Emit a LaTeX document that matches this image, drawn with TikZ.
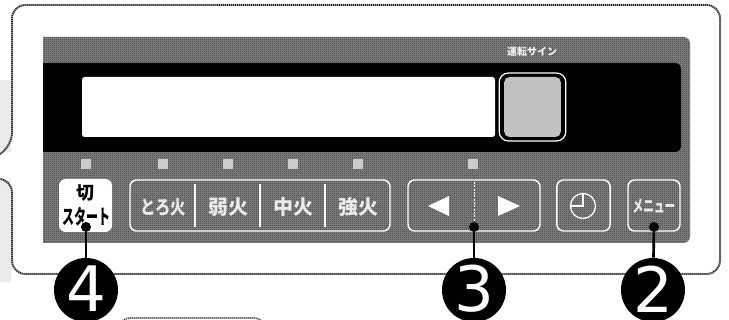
\documentclass[tikz,border=0pt]{standalone}
\usepackage{fontspec}
\usetikzlibrary{arrows.meta,patterns}
\setmainfont{Liberation Sans}
\newfontfamily\cjk{Noto Sans CJK JP}
\newfontfamily\digitfont{DejaVu Sans}
\pgfdeclarepatternformonly{chk}{\pgfpointorigin}{\pgfqpoint{1.5pt}{1.5pt}}{\pgfqpoint{1.5pt}{1.5pt}}{%
  \pgfpathrectangle{\pgfpointorigin}{\pgfqpoint{0.75pt}{0.75pt}}%
  \pgfpathrectangle{\pgfqpoint{0.75pt}{0.75pt}}{\pgfqpoint{0.75pt}{0.75pt}}%
  \pgfusepath{fill}}
\definecolor{ledc}{gray}{0.8}
\definecolor{bandc}{gray}{0.52}
\tikzset{
  x=0.75pt,y=-0.75pt,
  outline/.style={draw=black!85,line width=1.3pt,dash pattern=on 0.75pt off 0.75pt},
  btn/.style={draw=white,line width=1.1pt,rounded corners=5pt},
  ledsq/.style={fill=ledc,draw=none,minimum size=7.5pt,inner sep=0pt},
  lbl/.style={text=black!8,inner sep=0pt,font=\cjk\bfseries\fontsize{15pt}{15pt}\selectfont},
  dotend/.style={circle,fill=black,minimum size=7.5pt,inner sep=0pt},
  numc/.style={circle,fill=black,minimum size=48pt,inner sep=0pt},
  numt/.style={text=white,inner sep=0pt,font=\digitfont\fontsize{47pt}{47pt}\selectfont},
  wire/.style={draw=black,line width=2pt}
}
\begin{document}
\begin{tikzpicture}
\useasboundingbox (0,0) rectangle (729,320);
\fill[white] (0,0) rectangle (729,320);
% left stipple
\fill[black!8] (0,80) rectangle (11,152);
\fill[black!8] (0,180) rectangle (11,282);
% outer case
\draw[draw=black!35,line width=1.5pt,rounded corners=10pt] (0,154) -- (12,146) -- (12,5) -- (720,5) -- (720,274) -- (12,274) -- (12,179) -- (0,179);
\draw[outline,rounded corners=10pt] (0,154) -- (12,146) -- (12,5) -- (720,5) -- (720,274) -- (12,274) -- (12,179) -- (0,179);
% panel
\fill[bandc] (43,37) [rounded corners=5pt] -- (690,37) -- (690,243) [sharp corners] -- (43,243) -- cycle;
\fill[pattern=chk,pattern color=black!80] (43,37) [rounded corners=5pt] -- (690,37) -- (690,243) [sharp corners] -- (43,243) -- cycle;
\fill[black] (43,63) [rounded corners=4pt] -- (681,63) -- (681,152) [sharp corners] -- (43,152) -- cycle;
\node[fill=white,rounded corners=2pt,minimum width=309.75pt,minimum height=45pt,inner sep=0pt] (window) at (288.5,107) {};
\node[draw=white,line width=0.9pt,rounded corners=7pt,minimum width=50pt,minimum height=51pt,inner sep=0pt] (signframe) at (532.5,107) {};
\node[fill=black!24,rounded corners=4pt,minimum width=42.5pt,minimum height=45pt,inner sep=0pt] (signlamp) at (532.5,107) {};
\node[text=black!5,font=\cjk\bfseries\fontsize{7.5pt}{7.5pt}\selectfont,inner sep=0pt] (signtext) at (532,52) {運転サイン};
% LEDs
\node[ledsq] (l1) at (86,164) {};
\node[ledsq] (l2) at (163,164) {};
\node[ledsq] (l3) at (228,164) {};
\node[ledsq] (l4) at (293,164) {};
\node[ledsq] (l5) at (358,164) {};
\node[ledsq] (l6) at (473,164) {};
% start button
\node[fill=white,rounded corners=5pt,minimum width=39.75pt,minimum height=39.75pt,inner sep=0pt] (start) at (85.5,205.5) {};
\node[font=\cjk\bfseries\fontsize{13.5pt}{13.5pt}\selectfont,inner sep=0pt] (kiri) at (85,193) {切};
\node[font=\cjk\bfseries\fontsize{9pt}{9pt}\selectfont,inner sep=0pt] (sta) at (86,217) {\scalebox{1}[1.7]{スタート}};
% heat group
\node[btn,minimum width=195pt,minimum height=38.25pt,inner sep=0pt] (heat) at (260,205.5) {};
\draw[white,line width=0.9pt] (195,184) -- (195,227) (260,184) -- (260,227) (325,184) -- (325,227);
\node[lbl,font=\cjk\bfseries\fontsize{11.5pt}{11.5pt}\selectfont] (t1) at (163,207) {\scalebox{1}[1.25]{とろ火}};
\node[lbl] (t2) at (228,207) {弱火};
\node[lbl] (t3) at (293,207) {中火};
\node[lbl] (t4) at (358,207) {強火};
% arrow buttons
\node[btn,minimum width=99pt,minimum height=38.25pt,inner sep=0pt] (arrows) at (474,205.5) {};
\draw[white,line width=0.7pt,dash pattern=on 1.5pt off 1pt] (474,182) -- (474,229);
\fill[white] (428,206) -- (449,196) -- (449,216) -- cycle;
\fill[white] (520,206) -- (498,196) -- (498,216) -- cycle;
% clock
\node[btn,minimum width=40pt,minimum height=38.25pt,inner sep=0pt] (clock) at (583.5,205.5) {};
\draw[white,line width=1pt] (583,206) circle[radius=12.5];
\draw[white,line width=1pt] (583,194) -- (583,206) -- (571,206);
% menu
\node[btn,minimum width=39pt,minimum height=38.25pt,inner sep=0pt] (menu) at (654,205.5) {};
\node[lbl,font=\cjk\bfseries\fontsize{8pt}{8pt}\selectfont] (mt) at (654,206) {\scalebox{1}[1.6]{メニュー}};
% callouts
\node[numc] (n4) at (86,290) {};
\node[numc] (n3) at (474,290) {};
\node[numc] (n2) at (653,290) {};
\node[numt] (d4t) at (86,289) {4};
\node[numt] (d3t) at (474,289) {3};
\node[numt] (d2t) at (653,289) {2};
\node[dotend] (d4) at (86,227) {};
\node[dotend] (d3) at (474,227) {};
\node[dotend] (d2) at (654,227) {};
\draw[wire] (d4) -- (n4);
\draw[wire] (d3) -- (n3);
\draw[wire] (d2) -- (n2);
% bottom pill
\draw[outline,rounded corners=8pt] (119,340) -- (119,318) -- (265,318) -- (265,340);
\end{tikzpicture}
\end{document}
